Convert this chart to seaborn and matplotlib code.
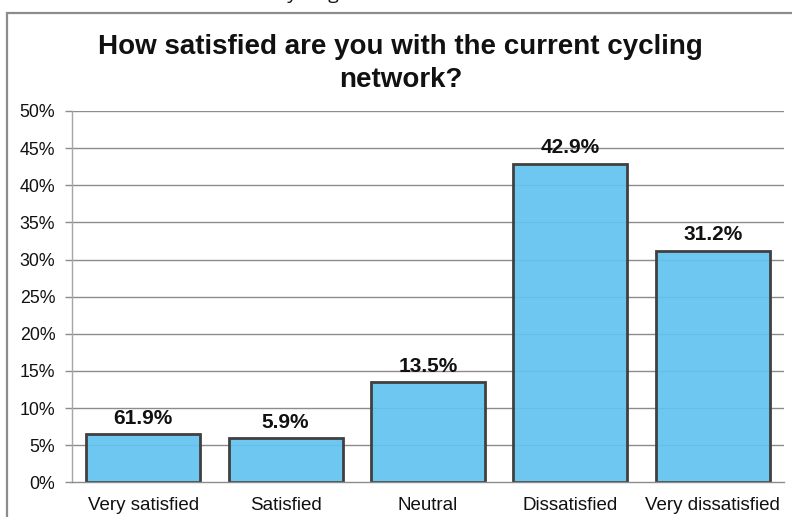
import matplotlib
matplotlib.use("Agg")
import matplotlib.pyplot as plt
from matplotlib.patches import Rectangle
import seaborn as sns
import pandas as pd

categories = ["Very satisfied", "Satisfied", "Neutral", "Dissatisfied", "Very dissatisfied"]
shares = [6.5, 5.9, 13.5, 42.9, 31.2]
value_labels = ["61.9%", "5.9%", "13.5%", "42.9%", "31.2%"]
y_ticks = [0, 5, 10, 15, 20, 25, 30, 35, 40, 45, 50]
title = "How satisfied are you with the current cycling\nnetwork?"

sns.set_theme(style="white")
plt.rcParams["font.family"] = ["Liberation Sans", "DejaVu Sans"]

df = pd.DataFrame({"category": categories, "share": shares})

W, H = 792, 517
fig = plt.figure(figsize=(W / 100, H / 100), dpi=100)
ax = fig.add_axes([72 / W, (H - 482.3) / H, (784 - 72) / W, (482.3 - 111) / H])

grid_color = "#8c8c8c"
for t in y_ticks[1:]:
    ax.axhline(t, color=grid_color, lw=1.0, zorder=1)

sns.barplot(data=df, x="category", y="share", order=categories, color="#62c3ef",
            edgecolor="#404040", linewidth=2.0, width=0.8, saturation=1, ax=ax, zorder=2)
for p in ax.patches:
    p.set_facecolor((0x62 / 255, 0xc3 / 255, 0xef / 255, 0.92))
    p.set_edgecolor("#404040")

for i, (v, lab) in enumerate(zip(shares, value_labels)):
    ax.annotate(lab, (i, v), xytext=(0, 4.5), textcoords="offset points",
                ha="center", va="bottom", fontsize=15, fontweight="bold", color="#111111")

ax.set_xlim(-0.5, len(categories) - 0.5)
ax.set_ylim(0, 50)
ax.set_yticks(y_ticks)
ax.set_yticklabels([f"{t}%" for t in y_ticks])
ax.set_xlabel("")
ax.set_ylabel("")

ax.set_xticks(range(len(categories)))
ax.set_xticklabels(categories)
ax.set_xticks([i - 0.5 for i in range(len(categories) + 1)], minor=True)
ax.tick_params(axis="x", which="major", length=0, pad=10.5, labelsize=13.5, colors="#111111")
ax.tick_params(axis="x", which="minor", length=5, width=1, color=grid_color, direction="out")
ax.tick_params(axis="y", length=5, width=1, color=grid_color, direction="out",
               pad=7, labelsize=12.8, labelcolor="#111111", left=True)

for side in ["top", "right"]:
    ax.spines[side].set_visible(False)
ax.spines["left"].set_color("#a6a6a6")
ax.spines["left"].set_linewidth(1.0)
ax.spines["bottom"].set_color(grid_color)
ax.spines["bottom"].set_linewidth(1.0)
ax.spines["left"].set_zorder(3)
ax.spines["bottom"].set_zorder(3)

fig.text(0.506, 1 - 63.5 / H, title, ha="center", va="center", fontsize=20,
         fontweight="bold", color="#111111", linespacing=1.38)

# chart frame, running off the right and bottom edges
fig.add_artist(Rectangle((6.5 / W, -0.05), 1.0, (H - 12.5) / H + 0.05,
                         transform=fig.transFigure, fill=False,
                         edgecolor="#8c8c8c", lw=1.6))

# tail of the line of text above the frame
fig.text(279 / W, 1.0 + 1 / H, "cycling", ha="left", va="baseline",
         fontsize=14, color="#111111", family=["Open Sans", "DejaVu Sans"])

fig.savefig("out.png", dpi=100)
